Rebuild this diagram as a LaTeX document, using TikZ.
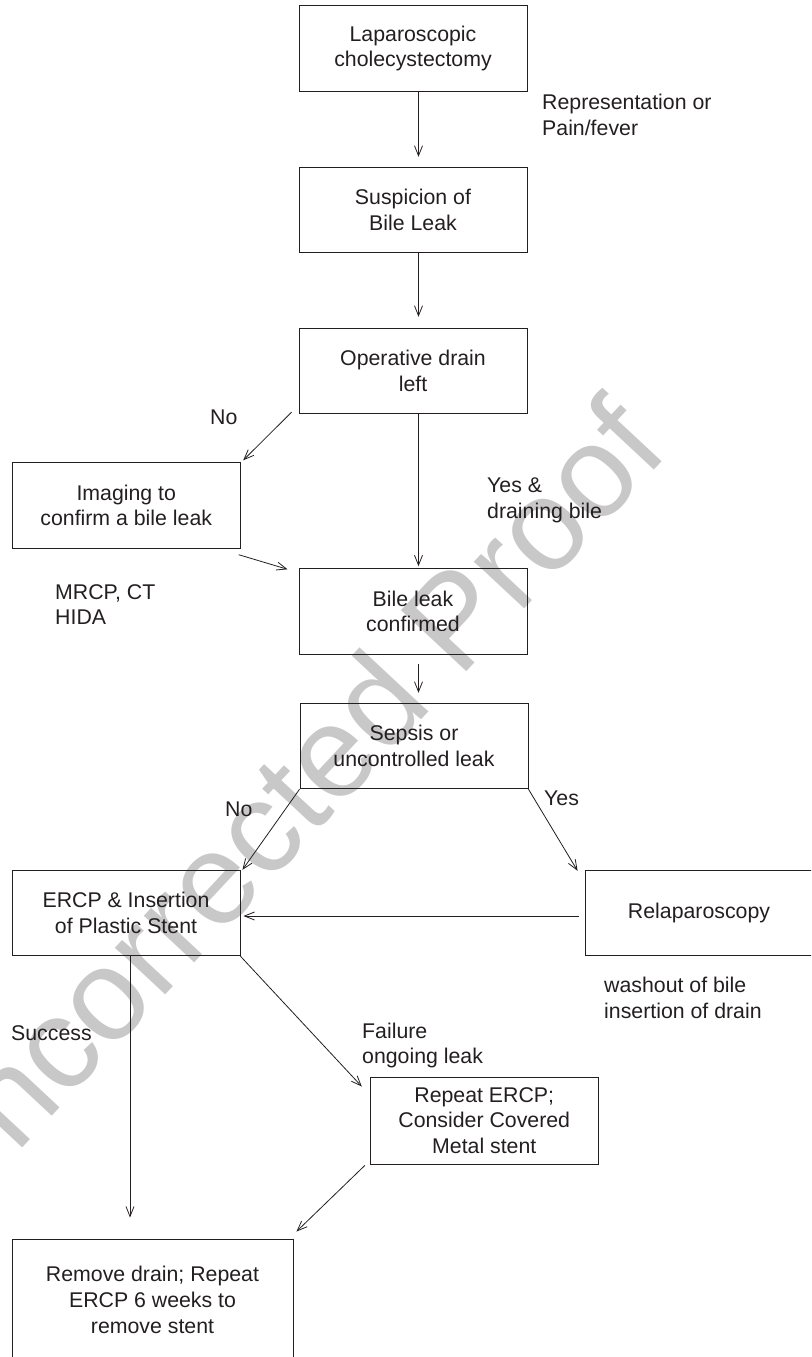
\documentclass[tikz,border=0pt]{standalone}
\usepackage{fontspec}
\setmainfont{Liberation Sans}
\usetikzlibrary{arrows.meta,calc}
\definecolor{ink}{RGB}{35,31,32}
\definecolor{wmgray}{RGB}{200,200,200}
\newcommand{\flowfont}{\fontsize{21.3}{25.7}\selectfont}
\newcommand{\wmfont}{\fontsize{130}{140}\selectfont}
\begin{document}
\begin{tikzpicture}[x=1pt,y=-1pt,
  box/.style={draw=ink, line width=0.9pt, minimum width=228pt, minimum height=85.5pt,
    inner sep=0pt, align=center, text=ink, font=\flowfont},
  lbl/.style={anchor=west, inner sep=0pt, align=left, text=ink, font=\flowfont},
  arr/.style={draw=ink, line width=0.8pt, -{Straight Barb[length=10pt,width=8pt]}}]
\useasboundingbox (0,0) rectangle (811,1357);
\begin{scope}
\clip (0,0) rectangle (811,1357);
% watermark
\node[text=wmgray, font=\wmfont, rotate=47, inner sep=0pt] (wm) at (278,806) {Uncorrected Proof};
% boxes
\node[box] (b1) at (413,48.5) {Laparoscopic\\cholecystectomy};
\node[box] (b2) at (413,210) {Suspicion of\\Bile Leak};
\node[box] (b3) at (413,371) {Operative drain\\left};
\node[box] (b4) at (126.25,505.5) {Imaging to\\confirm a bile leak};
\node[box] (b5) at (413,611.5) {Bile leak\\confirmed};
\node[box] (b6) at (414,746) {Sepsis or\\uncontrolled leak};
\node[box] (b7) at (126,913) {ERCP \& Insertion\\of Plastic Stent};
\node[box] (b8) at (699,913) {Relaparoscopy};
\node[box, minimum height=87pt] (b9) at (484.25,1120.5) {Repeat ERCP;\\Consider Covered\\Metal stent};
\node[box, minimum width=281pt, minimum height=122pt] (b10) at (152.5,1300) {Remove drain; Repeat\\ERCP 6 weeks to\\remove stent};
% labels
\node[lbl] (l1) at (542,115) {Representation or\\Pain/fever};
\node[lbl] (l2) at (210,417) {No};
\node[lbl] (l3) at (487,500.5) {Yes \&\\draining bile};
\node[lbl] (l4) at (55,604.5) {MRCP, CT\\HIDA};
\node[lbl] (l5) at (225,809) {No};
\node[lbl] (l6) at (544,798) {Yes};
\node[lbl] (l7) at (604,998) {washout of bile\\insertion of drain};
\node[lbl] (l8) at (11,1033) {Success};
\node[lbl] (l9) at (362,1045.5) {Failure\\ongoing leak};
% connectors
\draw[arr] ($(b1.south)+(5.5,0)$) -- ($(b2.north)+(5.5,-10)$);
\draw[arr] ($(b2.south)+(5.5,0)$) -- ($(b3.north)+(5.5,-11)$);
\draw[arr] ($(b3.south)+(5.5,0)$) -- ($(b5.north)+(5.5,-2)$);
\draw[arr] ($(b5.south)+(5.5,9)$) -- ($(b6.north)+(4.5,-10)$);
\draw[arr] ($(b3.south west)+(-7,-2)$) -- ($(b4.north east)+(2.5,-2)$);
\draw[arr] ($(b4.south east)+(-2,6)$) -- ($(b5.north west)+(-11,1)$);
\draw[arr] (b6.south west) -- ($(b7.north east)+(2,0)$);
\draw[arr] (b6.south east) -- ($(b8.north west)+(-7,1)$);
\draw[arr] ($(b8.west)+(-6,3)$) -- ($(b7.east)+(3,3)$);
\draw[arr] ($(b7.south)+(4,0)$) -- ($(b10.north)+(-22.5,-21)$);
\draw[arr] (b7.south east) -- ($(b9.north west)+(-8,10)$);
\draw[arr] ($(b9.south west)+(-5,1)$) -- ($(b10.north east)+(3,-7)$);
\end{scope}
\end{tikzpicture}
\end{document}
